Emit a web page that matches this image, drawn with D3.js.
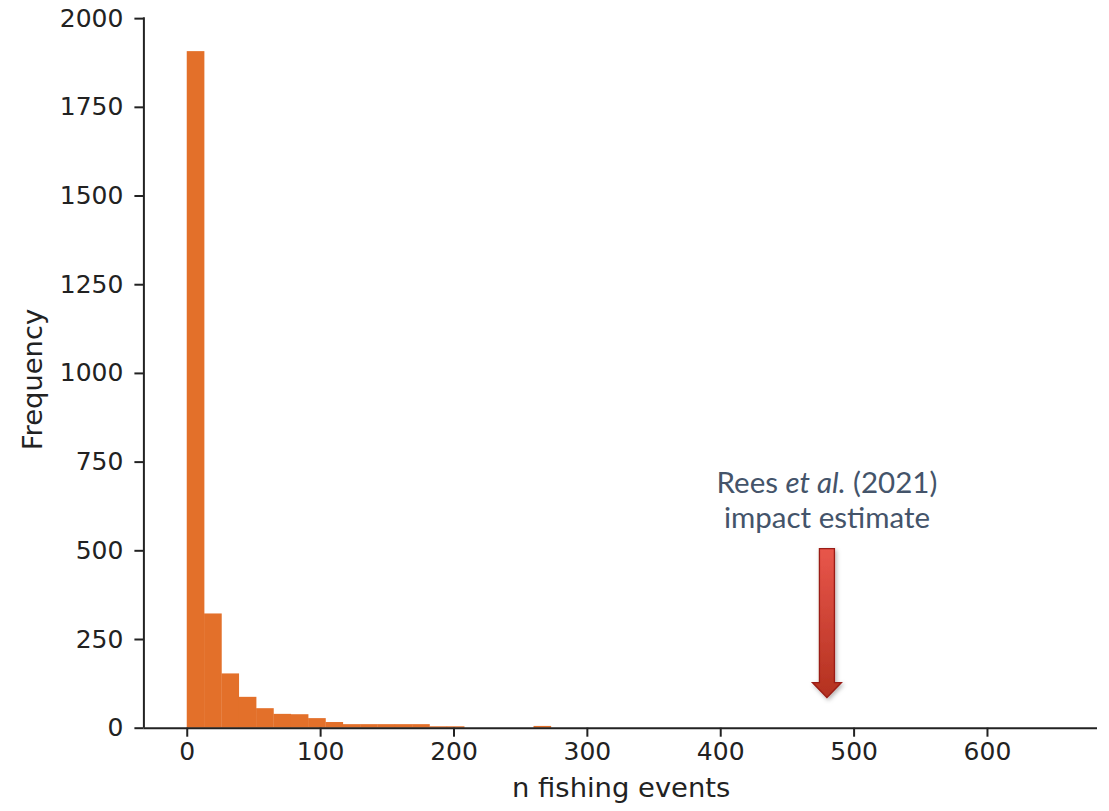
<!DOCTYPE html>
<html>
<head>
<meta charset="utf-8">
<script src="https://cdn.jsdelivr.net/npm/d3@7"></script>
<style>
  html, body { margin: 0; padding: 0; background: #ffffff; }
  svg { display: block; }
</style>
</head>
<body>
<svg id="chart" width="1109" height="811"></svg>
<script>
// ---- data ----
const binStart = 0;
const binWidth = 13;
const counts = [1907, 322, 153, 87, 55, 39, 38, 27, 16, 10,
                10, 10, 10, 10, 4, 4, 0, 0, 0, 0,
                5, 0, 0, 0, 0, 0, 0, 0, 0, 0,
                0, 0, 0, 0, 0, 0, 0, 0, 0, 0,
                0, 0, 0, 0, 0, 0, 0, 0, 0, 0];
const xTicks = [0, 100, 200, 300, 400, 500, 600];
const yTicks = [0, 250, 500, 750, 1000, 1250, 1500, 1750, 2000];
const arrowX = [480];
const arrowY = [505, 85];   // top, tip
const annotationLines = ["Rees", "et al.", "(2021)", "impact estimate"];

// ---- layout ----
const svg = d3.select("#chart");
const mLeft = 143.4, mRight = 1097, mTop = 17.3, mBottom = 727.7;

const bins = counts.map((c, i) => ({ x0: binStart + i * binWidth, x1: binStart + (i + 1) * binWidth, n: c }));
const xMax = bins[bins.length - 1].x1;
const x = d3.scaleLinear().domain([-0.05 * xMax, xMax * 1.05]).range([mLeft, mRight]);
const y = d3.scaleLinear().domain([0, d3.max(counts) * 1.05]).range([mBottom, mTop]);

// bars
svg.append("g").selectAll("rect")
  .data(bins.filter(b => b.n > 0))
  .join("rect")
  .attr("x", d => x(d.x0))
  .attr("width", d => x(d.x1) - x(d.x0) + 0.3)
  .attr("y", d => y(d.n))
  .attr("height", d => y(0) - y(d.n))
  .attr("fill", "#e3702a");

// axes
const tickFont = "DejaVu Sans, sans-serif";
const xAxis = svg.append("g")
  .attr("transform", `translate(0,${mBottom})`)
  .call(d3.axisBottom(x).tickValues(xTicks).tickSize(9).tickPadding(6).tickFormat(d3.format("d")));
const yAxis = svg.append("g")
  .attr("transform", `translate(${mLeft},0)`)
  .call(d3.axisLeft(y).tickValues(yTicks).tickSize(9).tickPadding(11).tickFormat(d3.format("d")));

[xAxis, yAxis].forEach(g => {
  g.select(".domain").attr("stroke", "#222").attr("stroke-width", 2);
  g.selectAll(".tick line").attr("stroke", "#222").attr("stroke-width", 2);
  g.selectAll(".tick text").attr("fill", "#222").style("font-family", tickFont).style("font-size", "25px");
});
xAxis.select(".domain").attr("d", `M${mLeft},0.5H${mRight}`);
yAxis.select(".domain").attr("d", `M0.5,${mBottom}V${mTop}`);

// axis labels
svg.append("text")
  .attr("x", (mLeft + mRight) / 2 + 1)
  .attr("y", 797)
  .attr("text-anchor", "middle")
  .style("font-family", tickFont)
  .style("font-size", "27.4px")
  .attr("fill", "#222")
  .text("n fishing events");

svg.append("text")
  .attr("transform", `translate(42,${(mTop + mBottom) / 2 + 7}) rotate(-90)`)
  .attr("text-anchor", "middle")
  .style("font-family", tickFont)
  .style("font-size", "27.4px")
  .attr("fill", "#222")
  .text("Frequency");

// ---- annotation arrow ----
const defs = svg.append("defs");
const grad = defs.append("linearGradient").attr("id", "arrowGrad")
  .attr("x1", 0).attr("y1", 0).attr("x2", 0).attr("y2", 1);
grad.append("stop").attr("offset", "0%").attr("stop-color", "#e8564b");
grad.append("stop").attr("offset", "100%").attr("stop-color", "#b3311f");
const flt = defs.append("filter").attr("id", "shadow").attr("x", "-50%").attr("y", "-20%").attr("width", "200%").attr("height", "140%");
flt.append("feDropShadow").attr("dx", 1.5).attr("dy", 2).attr("stdDeviation", 2).attr("flood-color", "#000").attr("flood-opacity", 0.3);

const ax = x(arrowX[0]);
const aTop = y(arrowY[0]);
const aTip = y(arrowY[1]);
const shaftHalf = 7.5, headHalf = 14.5, headLen = 15;
const arrowPath = d3.path();
arrowPath.moveTo(ax - shaftHalf, aTop);
arrowPath.lineTo(ax + shaftHalf, aTop);
arrowPath.lineTo(ax + shaftHalf, aTip - headLen);
arrowPath.lineTo(ax + headHalf, aTip - headLen);
arrowPath.lineTo(ax, aTip);
arrowPath.lineTo(ax - headHalf, aTip - headLen);
arrowPath.lineTo(ax - shaftHalf, aTip - headLen);
arrowPath.closePath();
svg.append("path")
  .attr("d", arrowPath.toString())
  .attr("fill", "url(#arrowGrad)")
  .attr("stroke", "#9a1d14")
  .attr("stroke-width", 1.3)
  .attr("filter", "url(#shadow)");

// annotation text
const annFont = "Lato, 'Open Sans', sans-serif";
const t1 = svg.append("text")
  .attr("x", ax).attr("y", aTop - 56)
  .attr("text-anchor", "middle")
  .style("font-family", annFont).style("font-size", "29.5px")
  .attr("fill", "#44546a");
t1.append("tspan").text(annotationLines[0] + " ");
t1.append("tspan").style("font-style", "italic").text(annotationLines[1]);
t1.append("tspan").text(" " + annotationLines[2]);
svg.append("text")
  .attr("x", ax).attr("y", aTop - 21)
  .attr("text-anchor", "middle")
  .style("font-family", annFont).style("font-size", "29.5px")
  .attr("fill", "#44546a")
  .text(annotationLines[3]);
</script>
</body>
</html>
